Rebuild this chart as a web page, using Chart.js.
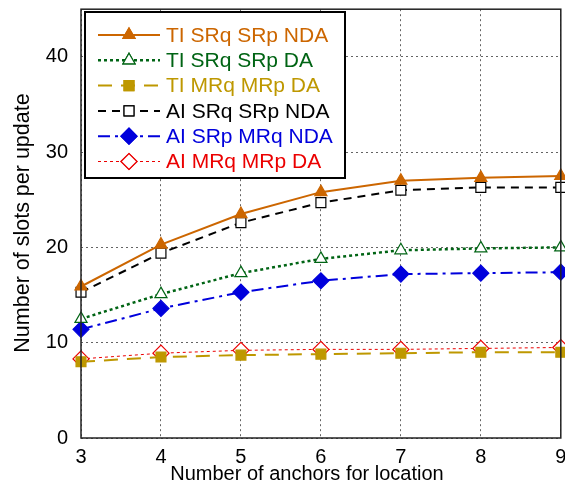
<!DOCTYPE html>
<html>
<head>
<meta charset="utf-8">
<script src="https://cdn.jsdelivr.net/npm/chart.js@4.4.1/dist/chart.umd.min.js"></script>
<style>
  html, body { margin: 0; padding: 0; background: #fff; overflow: hidden; }
  #wrap { width: 570px; height: 494px; }
</style>
</head>
<body>
<div id="wrap"><canvas id="slots"></canvas></div>
<script>
// Data
const anchors = [3, 4, 5, 6, 7, 8, 9];
const yTicks = [0, 10, 20, 30, 40];

const tiSrqSrpNda = [15.9, 20.3, 23.5, 25.8, 27.0, 27.3, 27.5];
const tiSrqSrpDa  = [12.5, 15.1, 17.3, 18.8, 19.7, 19.9, 20.0];
const tiMrqMrpDa  = [8.0, 8.5, 8.7, 8.8, 8.9, 9.0, 9.0];
const aiSrqSrpNda = [15.3, 19.4, 22.6, 24.7, 26.0, 26.3, 26.3];
const aiSrpMrqNda = [11.4, 13.6, 15.3, 16.5, 17.2, 17.3, 17.4];
const aiMrqMrpDa  = [8.3, 8.9, 9.2, 9.3, 9.3, 9.4, 9.5];

const xTitle = 'Number of anchors for location';
const yTitle = 'Number of slots per update';

const FONT = 'Arial, "Liberation Sans", sans-serif';

const pts = arr => arr.map((v, i) => ({ x: anchors[i], y: v }));

const series = [
  { label: 'TI SRq SRp NDA', data: tiSrqSrpNda, color: 'rgb(204,102,0)', dash: [], width: 2,
    point: 'triangle', radius: 7, fill: 'rgb(204,102,0)' },
  { label: 'TI SRq SRp DA', data: tiSrqSrpDa, color: 'rgb(0,100,20)', dash: [3, 3], width: 2.5,
    point: 'triangle', radius: 7, fill: '#fff' },
  { label: 'TI MRq MRp DA', data: tiMrqMrpDa, color: 'rgb(190,152,0)', dash: [14, 9], width: 2,
    point: 'rect', radius: 7, fill: 'rgb(190,152,0)' },
  { label: 'AI SRq SRp NDA', data: aiSrqSrpNda, color: '#000', dash: [8, 6], width: 2,
    point: 'rect', radius: 7, fill: '#fff' },
  { label: 'AI SRp MRq NDA', data: aiSrpMrqNda, color: 'rgb(0,0,220)', dash: [12, 5, 3, 5], width: 2,
    point: 'rectRot', radius: 8, fill: 'rgb(0,0,220)' },
  { label: 'AI MRq MRp DA', data: aiMrqMrpDa, color: 'rgb(235,0,0)', dash: [3, 3], width: 1,
    point: 'rectRot', radius: 8, fill: '#fff' }
];

// Frame around the plot, axis titles, and the boxed legend in the upper left
const framePlugin = {
  id: 'frame',
  afterDatasetsDraw(chart) {
    const { ctx, chartArea: a } = chart;
    ctx.save();
    ctx.strokeStyle = '#222';
    ctx.lineWidth = 1.5;
    ctx.setLineDash([]);
    ctx.strokeRect(a.left, a.top, a.right - a.left, a.bottom - a.top);

    // axis titles
    ctx.fillStyle = '#000';
    ctx.textAlign = 'center';
    ctx.textBaseline = 'middle';
    ctx.font = '20px ' + FONT;
    ctx.fillText(xTitle, 307, 474);
    ctx.save();
    ctx.translate(23, 223);
    ctx.rotate(-Math.PI / 2);
    ctx.font = '21.5px ' + FONT;
    ctx.fillText(yTitle, 0, 0);
    ctx.restore();

    // legend box
    const bx = 85, by = 12, bw = 260, bh = 166;
    ctx.fillStyle = '#fff';
    ctx.fillRect(bx, by, bw, bh);
    ctx.strokeStyle = '#000';
    ctx.lineWidth = 2;
    ctx.strokeRect(bx, by, bw, bh);

    ctx.font = '21px ' + FONT;
    ctx.textAlign = 'left';
    series.forEach((s, i) => {
      const y = 35 + i * 25.3;
      ctx.strokeStyle = s.color;
      ctx.lineWidth = s.width;
      ctx.setLineDash(s.dash);
      ctx.beginPath();
      ctx.moveTo(98, y);
      ctx.lineTo(160, y);
      ctx.stroke();
      ctx.setLineDash([]);
      ctx.lineWidth = 1.2;
      Chart.helpers.drawPoint(ctx, {
        pointStyle: s.point, radius: s.radius, borderWidth: 1.2, rotation: 0
      }, 129, y);
      ctx.fillStyle = s.fill;
      ctx.fill();
      ctx.stroke();
      ctx.fillStyle = s.color;
      ctx.fillText(s.label, 166, y + 1);
    });
    ctx.restore();
  }
};

new Chart(document.getElementById('slots'), {
  type: 'line',
  data: {
    datasets: series.map(s => ({
      label: s.label,
      data: pts(s.data),
      borderColor: s.color,
      borderWidth: s.width,
      borderDash: s.dash,
      pointStyle: s.point,
      pointRadius: s.radius,
      pointBorderWidth: 1.2,
      pointBackgroundColor: s.fill,
      pointBorderColor: s.color,
      tension: 0,
      fill: false,
      clip: false
    }))
  },
  options: {
    responsive: true,
    maintainAspectRatio: false,
    animation: false,
    layout: { padding: { top: 7, right: 0, left: 0, bottom: 0 } },
    plugins: { legend: { display: false }, tooltip: { enabled: false } },
    scales: {
      x: {
        type: 'linear', min: 3, max: 9,
        ticks: { stepSize: 1, color: '#000', font: { family: FONT, size: 20 }, padding: 7, maxRotation: 0 },
        grid: { color: 'rgb(100,100,100)', lineWidth: 1, drawTicks: false },
        border: { display: false, dash: [2, 3] },
        afterFit: sc => { sc.height = 56; sc.paddingLeft = 0; sc.paddingRight = 0; }
      },
      y: {
        min: 0, max: 45,
        afterBuildTicks: sc => { sc.ticks = yTicks.map(v => ({ value: v })); },
        ticks: { color: '#000', font: { family: FONT, size: 20 }, padding: 13 },
        grid: { color: 'rgb(100,100,100)', lineWidth: 1, drawTicks: false },
        border: { display: false, dash: [2, 3] },
        afterFit: sc => { sc.width = 81; sc.paddingTop = 0; sc.paddingBottom = 0; }
      }
    }
  },
  plugins: [framePlugin]
});
</script>
</body>
</html>
